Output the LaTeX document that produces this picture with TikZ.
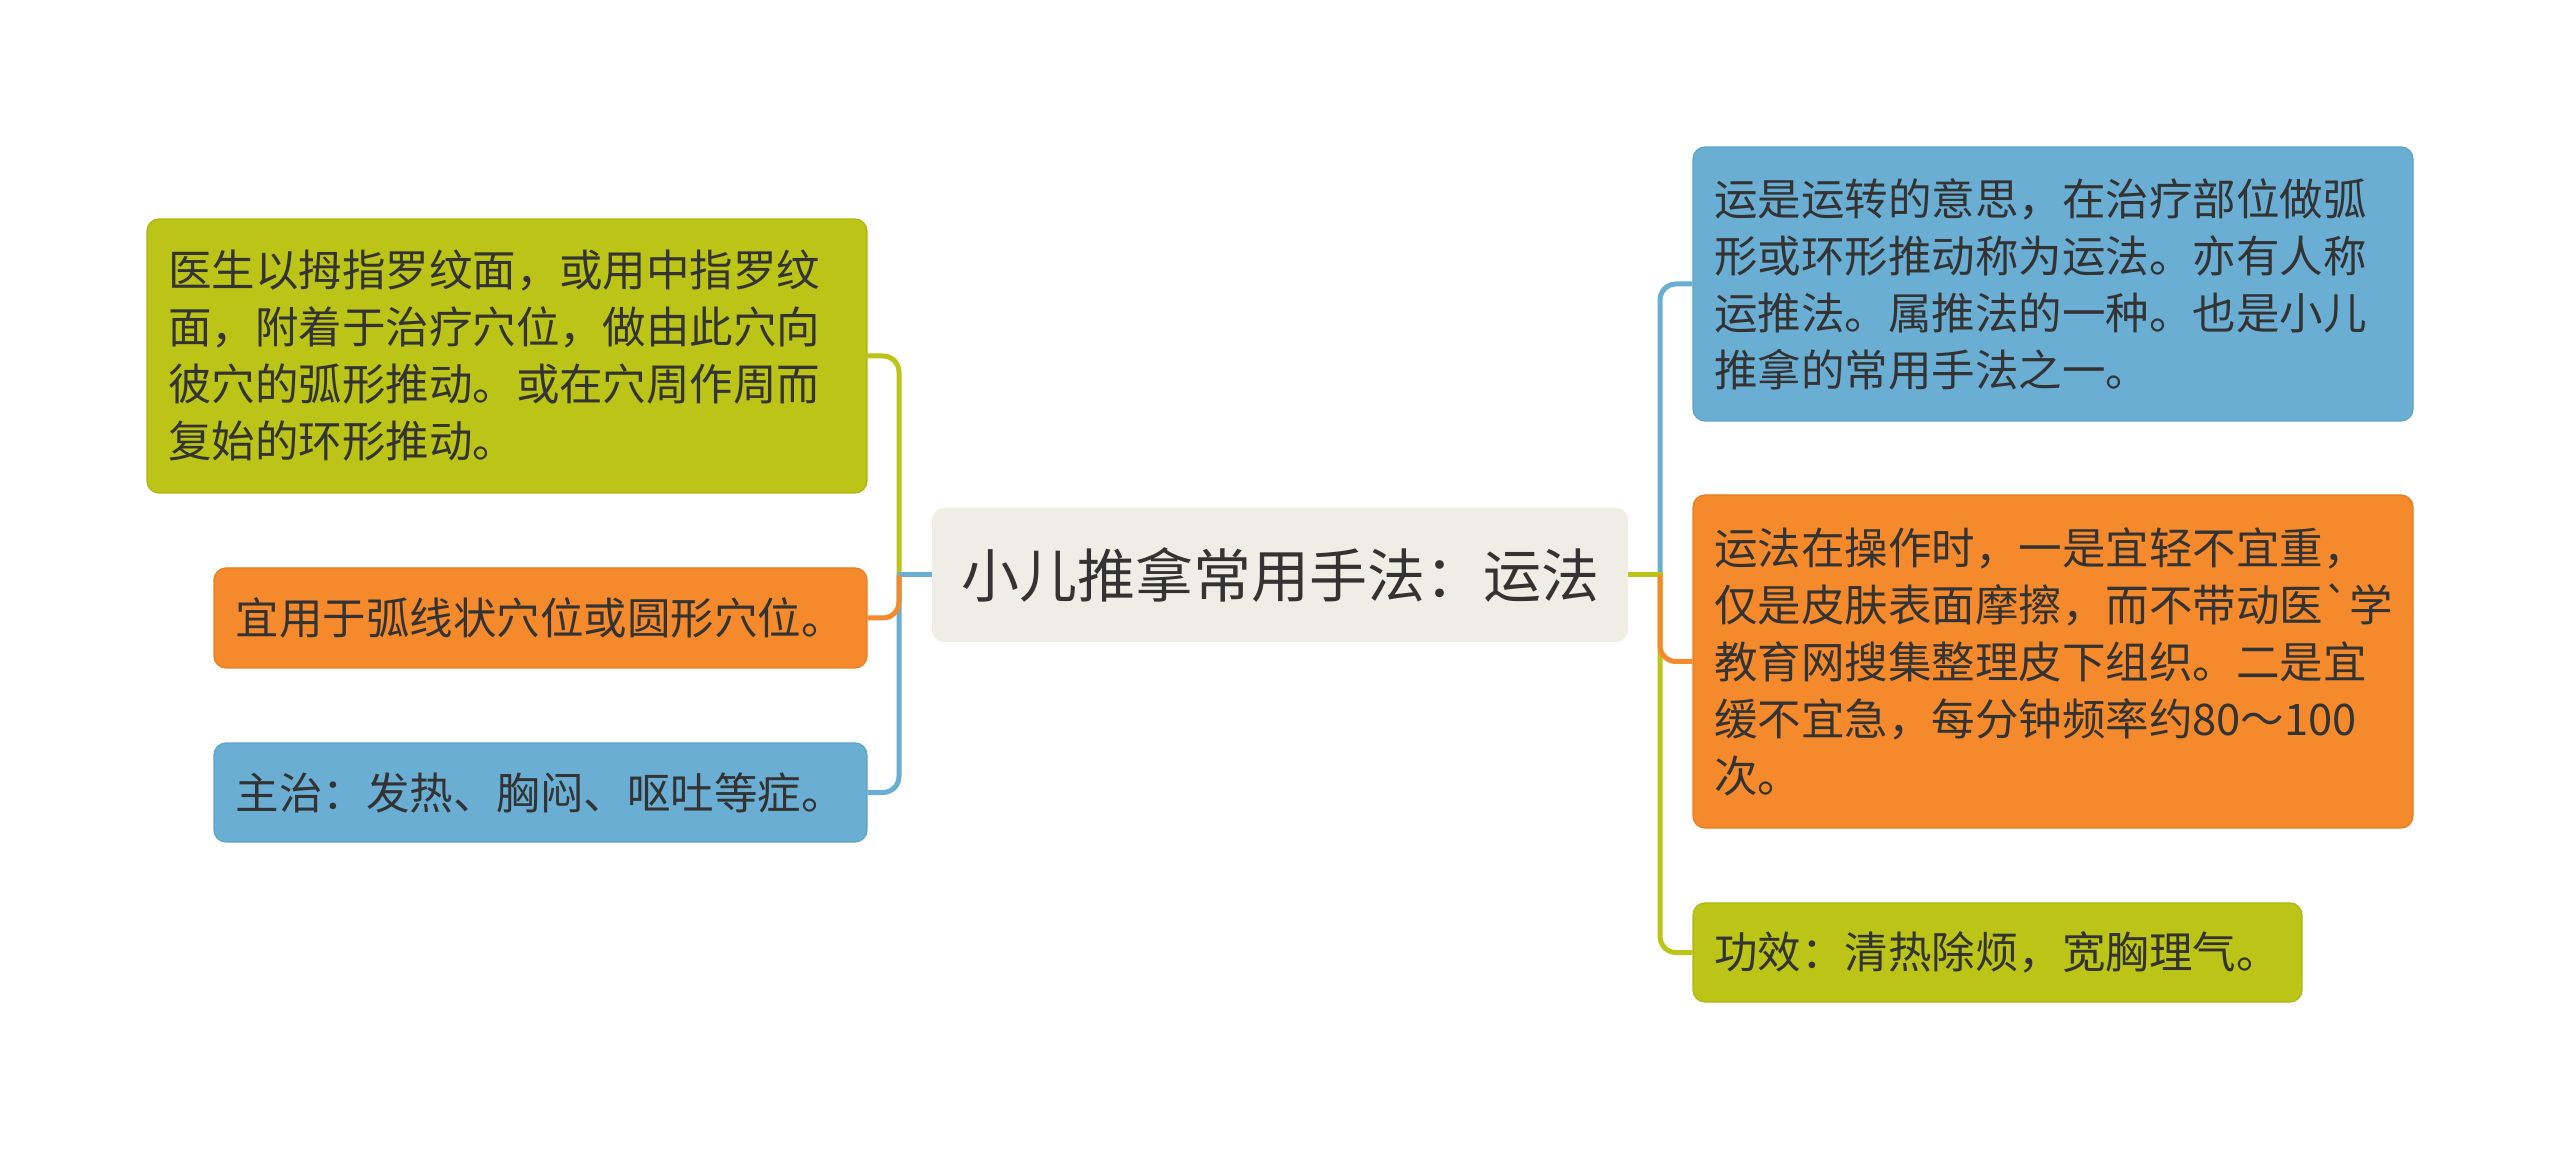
\documentclass[tikz,border=0pt]{standalone}
\usepackage{fontspec}
\newfontfamily\cjkfont{Noto Sans CJK SC}
\definecolor{cgreen}{HTML}{BBC417}
\definecolor{cgreenD}{HTML}{AEB612}
\definecolor{corange}{HTML}{F58A2C}
\definecolor{corangeD}{HTML}{E57E22}
\definecolor{cblue}{HTML}{6AAED3}
\definecolor{cblueD}{HTML}{5EA2C8}
\definecolor{croot}{HTML}{EEEEE6}
\definecolor{txt}{HTML}{333333}
\tikzset{
  box/.style={rounded corners=6pt, inner ysep=0pt, align=left, text=txt,
    font=\cjkfont\fontsize{21.75pt}{28.5pt}\selectfont, line width=0.6pt},
  greenbox/.style={box, fill=cgreen, draw=cgreenD},
  orangebox/.style={box, fill=corange, draw=corangeD},
  bluebox/.style={box, fill=cblue, draw=cblueD},
  rootbox/.style={rounded corners=6pt, fill=croot, text=txt, minimum width=348pt,
    minimum height=67pt, font=\cjkfont\fontsize{29pt}{34pt}\selectfont},
  link/.style={line width=2.5pt, rounded corners=8pt},
}
\begin{document}
\begin{tikzpicture}[x=0.5pt,y=-0.5pt]
\useasboundingbox (0,0) rectangle (2560,1149);
\fill[white] (0,0) rectangle (2560,1149);

\node[rootbox] (root) at (1280,575) {小儿推拿常用手法：运法};

\node[greenbox, text width=339pt, inner xsep=10.5pt, minimum height=137pt] (L1) at (507,356)
  {医生以拇指罗纹面，或用中指罗纹\\面，附着于治疗穴位，做由此穴向\\彼穴的弧形推动。或在穴周作周而\\复始的环形推动。};
\node[orangebox, text width=305pt, inner xsep=10.75pt, minimum height=50pt] (L2) at (540.5,618)
  {宜用于弧线状穴位或圆形穴位。};
\node[bluebox, text width=305pt, inner xsep=10.75pt, minimum height=49.5pt] (L3) at (540.5,792.5)
  {主治：发热、胸闷、呕吐等症。};

\node[bluebox, text width=339pt, inner xsep=10.5pt, minimum height=137pt] (R1) at (2053,284)
  {运是运转的意思，在治疗部位做弧\\形或环形推动称为运法。亦有人称\\运推法。属推法的一种。也是小儿\\推拿的常用手法之一。};
\node[orangebox, text width=339pt, inner xsep=10.5pt, minimum height=166.5pt] (R2) at (2053,661.5)
  {运法在操作时，一是宜轻不宜重，\\仅是皮肤表面摩擦，而不带动医`学\\教育网搜集整理皮下组织。二是宜\\缓不宜急，每分钟频率约80～100\\次。};
\node[greenbox, text width=283.5pt, inner xsep=10.5pt, minimum height=49.5pt] (R3) at (1997.5,952.5)
  {功效：清热除烦，宽胸理气。};

\coordinate (lj) at (899,575);
\coordinate (rj) at (1660,575);

\draw[link, cgreen] (lj) |- (L1.east);
\draw[link, cblue] (lj) |- (L3.east);
\draw[link, cblue] (root.west) -- ([xshift=-1.25pt]lj);
\draw[link, corange] (lj) |- (L2.east);

\draw[link, cblue] (rj) |- (R1.west);
\draw[link, cgreen] (rj) |- (R3.west);
\draw[link, cgreen] (root.east) -- ([xshift=1.25pt]rj);
\draw[link, corange] (rj) |- (R2.west);
\end{tikzpicture}
\end{document}
